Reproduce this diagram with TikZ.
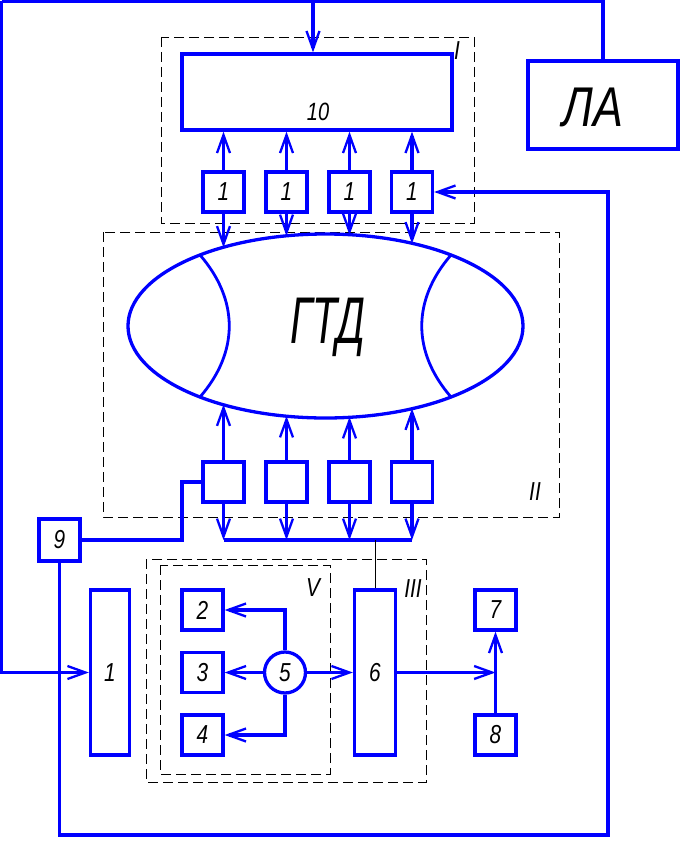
\documentclass[tikz,border=0pt]{standalone}
\usepackage{fontspec}
\setmainfont{Liberation Sans}[FakeStretch=0.8]
\newfontfamily\gtdfont{Liberation Sans}[FakeStretch=0.62]
\usetikzlibrary{arrows.meta,shapes.geometric}
\begin{document}
\begin{tikzpicture}[x=1pt,y=-1pt,
  blk/.style={draw=blue, line width=3.3pt, inner sep=0pt, font=\itshape\fontsize{26}{26}\selectfont},
  sq/.style={blk, minimum width=41pt, minimum height=40pt},
  wire/.style={draw=blue, line width=3.3pt},
  arr/.style={wire, -{Straight Barb[length=18pt,width=13pt,line width=2.3pt]}},
  dbox/.style={draw=black, line width=0.9pt, dash pattern=on 10pt off 5pt},
  thinline/.style={draw=black, line width=0.9pt},
  lbl/.style={inner sep=0pt, font=\itshape\fontsize{26}{26}\selectfont}]
\useasboundingbox (0,0) rectangle (680,845);

% dashed groups
\draw[dbox] (161,37) rectangle (474,223);
\draw[dbox] (103,232) rectangle (559,517);
\draw[dbox] (146,559) rectangle (426,782);
\draw[dbox] (160,565) rectangle (330,774);

% nodes
\node[blk, minimum width=270pt, minimum height=76pt] (b10) at (317,92) {};
\node[lbl, font=\itshape\fontsize{25}{25}\selectfont] (t10) at (318,112) {10};
\node[blk, minimum width=150pt, minimum height=88pt] (la) at (603,105) {};
\node[inner sep=0pt, font=\itshape\fontsize{56}{56}\selectfont] (latxt) at (593,107) {ЛА};

\node[sq] (u1) at (223.5,192) {1};
\node[sq] (u2) at (286.5,192) {1};
\node[sq] (u3) at (349.5,192) {1};
\node[sq] (u4) at (412,192) {1};

\node[draw=blue, line width=3.3pt, ellipse, inner sep=0pt, minimum width=395pt, minimum height=184pt] (gtd) at (325.5,326) {};
\node[inner sep=0pt, font=\gtdfont\itshape\fontsize{66}{66}\selectfont] (gtdtxt) at (328,327) {ГТД};
\draw[wire, line width=2.8pt] (200,255) .. controls (239,300) and (239,352) .. (200,397);
\draw[wire, line width=2.8pt] (451,255) .. controls (412,300) and (412,352) .. (451,397);

\node[sq] (d1) at (223.5,482) {};
\node[sq] (d2) at (286.5,482) {};
\node[sq] (d3) at (349.5,482) {};
\node[sq] (d4) at (412,482) {};

\node[sq, minimum height=42pt] (b9) at (59.5,540) {9};
\node[blk, minimum width=39pt, minimum height=165pt] (bl1) at (110,672.5) {1};
\node[sq] (b2) at (202.5,610) {2};
\node[sq] (b3) at (202.5,672.5) {3};
\node[sq] (b4) at (202.5,735) {4};
\node[blk, circle, minimum size=41pt] (c5) at (285,672.5) {5};
\node[blk, minimum width=41pt, minimum height=165pt] (b6) at (375,672.5) {6};
\node[sq] (b7) at (495.5,610) {7};
\node[sq] (b8) at (495.5,735) {8};

% roman labels
\node[lbl] (rI) at (457,51) {I};
\node[lbl] (rII) at (535,492) {II};
\node[lbl] (rIII) at (413,589) {III};
\node[lbl] (rV) at (313,588) {V};

% coordinates
\coordinate (TL) at (1.5,1.5);
\coordinate (T10) at (313,1.5);
\coordinate (bus) at (0,540);
\coordinate (k9) at (182,0);
\coordinate (BR) at (608,835);
\coordinate (j) at (495.5,672.5);
\coordinate (e1) at (223.5,247.5);
\coordinate (e2) at (286.5,236);
\coordinate (e3) at (349.5,235);
\coordinate (e4) at (412,243.5);
\coordinate (f1) at (223.5,404.5);
\coordinate (f2) at (286.5,416);
\coordinate (f3) at (349.5,417);
\coordinate (f4) at (412,408.5);

% top connections
\draw[wire] (TL) -| (la.north);
\draw[arr] (TL) |- (bl1.west);
\draw[arr] (T10) -- (T10 |- b10.north);
\foreach \u/\e in {u1/e1,u2/e2,u3/e3,u4/e4}{
  \draw[arr] (\u.north) -- (\u.north |- b10.south);
  \draw[arr] (\u.south) -- (\e);
}
\foreach \d/\f in {d1/f1,d2/f2,d3/f3,d4/f4}{
  \draw[arr] (\d.north) -- (\f);
  \draw[arr] (\d.south) -- (\d.south |- bus);
}
\draw[wire] (d1.south |- bus) -- (d4.south |- bus);
\draw[thinline] (b6.north) -- (b6.north |- bus);
\draw[wire] (d1.west) -| (k9 |- bus) -- (b9.east);
\draw[arr] (b9.south) |- (BR) |- (u4.east);

% lower connections
\draw[arr] (c5.north) |- (b2.east);
\draw[arr] (c5.west) -- (b3.east);
\draw[arr] (c5.south) |- (b4.east);
\draw[arr] (c5.east) -- (b6.west);
\draw[arr] (b6.east) -- (j);
\draw[arr] (b8.north) -- (b7.south);
\end{tikzpicture}
\end{document}
